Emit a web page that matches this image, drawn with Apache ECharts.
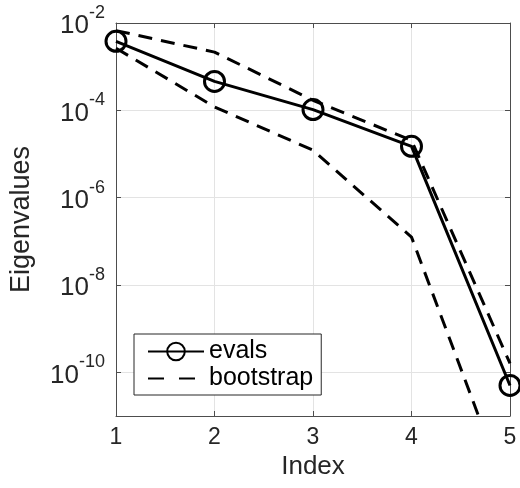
<!DOCTYPE html>
<html>
<head>
<meta charset="utf-8">
<title>Eigenvalues</title>
<script src="https://cdn.jsdelivr.net/npm/echarts@6/dist/echarts.min.js"></script>
<style>
    html,body{margin:0;padding:0;background:#fff;}
    #main{width:520px;height:488px;}
</style>
</head>
<body>
<div id="main"></div>
<script>
//数据
var index=[1,2,3,4,5];
var evals=[3.8e-3,4.6e-4,1.04e-4,1.5e-5,5e-11];
var bootUpper=[6.7e-3,2.15e-3,1.7e-4,2.05e-5,1.6e-10];
var bootLower=[2.65e-3,1.2e-4,1.22e-5,1.25e-7,1.2e-13];
var yTicks=[1e-10,1e-8,1e-6,1e-4,1e-2];

var font='"Liberation Sans", Arial, Helvetica, sans-serif';
var axisColor='#4d4d4d';
var gridColor='#e3e3e3';

function pairs(ys){
    var out=[];
    for(var i=0;i<index.length;i++){
        out.push([index[i],ys[i]]);
    }
    return out;
}

var myChart=echarts.init(document.getElementById('main'));
var option={
    animation:false,
    backgroundColor:'#fff',
    textStyle:{fontFamily:font},
    grid:{left:116,right:10,top:23,bottom:72,containLabel:false},
    legend:{
        orient:'vertical',
        left:134,
        top:334,
        padding:[5,8,4,13],
        itemWidth:56,
        itemHeight:22,
        itemGap:2,
        backgroundColor:'#fff',
        borderColor:'#262626',
        borderWidth:1,
        borderRadius:0,
        textStyle:{fontFamily:font,fontSize:25,color:'#000'},
        data:[
            {name:'evals'},
            //虚线图例不要圆点
            {name:'bootstrap',itemStyle:{color:'rgba(0,0,0,0)',borderWidth:0},lineStyle:{color:'#000',type:[16,15]}}
        ]
    },
    //x轴
    xAxis:[{
        type:'value',
        min:1,
        max:5,
        interval:1,
        name:'Index',
        nameLocation:'middle',
        nameGap:36,
        nameTextStyle:{fontFamily:font,fontSize:26,color:'#262626'},
        axisLine:{show:true,onZero:false,lineStyle:{color:axisColor,width:1}},
        axisTick:{show:true,inside:true,length:5,lineStyle:{color:axisColor}},
        axisLabel:{margin:10,fontFamily:font,fontSize:23,color:'#262626'},
        splitLine:{show:true,lineStyle:{color:gridColor,width:1}}
    },{
        type:'value',
        position:'top',
        min:1,
        max:5,
        interval:1,
        axisLine:{show:true,onZero:false,lineStyle:{color:axisColor,width:1}},
        axisTick:{show:true,inside:true,length:5,lineStyle:{color:axisColor}},
        axisLabel:{show:false},
        splitLine:{show:false}
    }],
    //y轴 对数
    yAxis:[{
        type:'log',
        logBase:10,
        min:1e-11,
        max:1e-2,
        name:'Eigenvalues',
        nameLocation:'middle',
        nameRotate:90,
        nameGap:81,
        nameTextStyle:{fontFamily:font,fontSize:27,color:'#262626'},
        axisLine:{show:true,onZero:false,lineStyle:{color:axisColor,width:1}},
        axisTick:{show:true,inside:true,length:5,customValues:yTicks,lineStyle:{color:axisColor}},
        axisLabel:{
            margin:11,
            customValues:yTicks,
            formatter:function(v){
                var e=Math.round(Math.log(v)/Math.LN10);
                return '{b|10}{e|'+e+'}';
            },
            rich:{
                b:{fontFamily:font,fontSize:26,color:'#262626',padding:[6,0,0,0]},
                e:{fontFamily:font,fontSize:18,color:'#262626',padding:[0,0,20,0]}
            }
        },
        splitLine:{show:true,lineStyle:{color:gridColor,width:1}}
    },{
        type:'log',
        logBase:10,
        position:'right',
        min:1e-11,
        max:1e-2,
        axisLine:{show:true,onZero:false,lineStyle:{color:axisColor,width:1}},
        axisTick:{show:true,inside:true,length:5,customValues:yTicks,lineStyle:{color:axisColor}},
        axisLabel:{show:false},
        splitLine:{show:false}
    }],
    series:[{
        name:'bootstrap',
        type:'line',
        data:pairs(bootUpper),
        symbol:'none',
        clip:true,
        lineStyle:{color:'#000',width:3,type:[14,9]},
        itemStyle:{color:'#000'}
    },{
        name:'bootstrap',
        type:'line',
        data:pairs(bootLower),
        symbol:'none',
        clip:true,
        lineStyle:{color:'#000',width:3,type:[14,9]},
        itemStyle:{color:'#000'}
    },{
        name:'evals',
        type:'line',
        data:pairs(evals),
        symbol:'circle',
        symbolSize:20,
        clip:false,
        lineStyle:{color:'#000',width:3},
        itemStyle:{color:'rgba(0,0,0,0)',borderColor:'#000',borderWidth:3}
    }]
};
myChart.setOption(option);
</script>
</body>
</html>
